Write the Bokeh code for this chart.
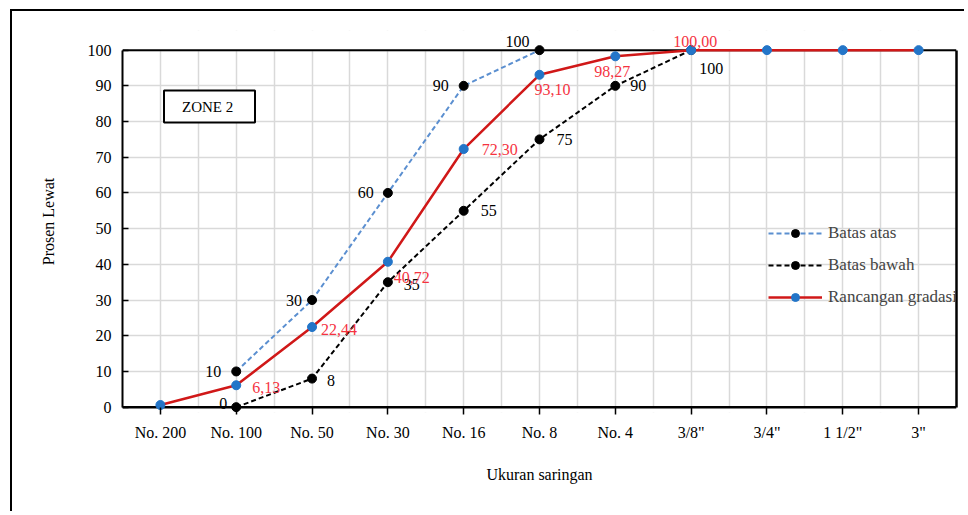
from bokeh.plotting import figure
from bokeh.models import (Range1d, FixedTicker, LinearAxis, Span, Label, LabelSet,
                          Legend, LegendItem, ColumnDataSource, BoxAnnotation)
from bokeh.embed import file_html
from bokeh.resources import INLINE

# ---------------- data ----------------
sieves = ["No. 200", "No. 100", "No. 50", "No. 30", "No. 16", "No. 8", "No. 4",
          '3/8"', '3/4"', '1 1/2"', '3"']
y_ticks = [0, 10, 20, 30, 40, 50, 60, 70, 80, 90, 100]

upper_sieves = ["No. 100", "No. 50", "No. 30", "No. 16", "No. 8"]
upper_vals = [10, 30, 60, 90, 100]
upper_text = ["10", "30", "60", "90", "100"]

lower_sieves = ["No. 100", "No. 50", "No. 30", "No. 16", "No. 8", "No. 4", '3/8"']
lower_vals = [0, 8, 35, 55, 75, 90, 100]
lower_text = ["0", "8", "35", "55", "75", "90", "100"]

design_sieves = sieves
design_vals = [0.6, 6.13, 22.44, 40.72, 72.30, 93.10, 98.27, 100, 100, 100, 100]
design_text = ["", "6,13", "22,44", "40,72", "72,30", "93,10", "98,27", "100,00", "", "", ""]

# label placement offsets (pixels)
upper_dx = [-23, -18, -22, -23, -22]
upper_dy = [0, 0, 0, 0, 9]
lower_dx = [-13, 19, 24, 25, 25, 23, 20]
lower_dy = [4, -2, -2, 0, 0, 0, -18]
design_dx = [0, 30, 27, 24, 36, 13, -3, 4, 0, 0, 0]
design_dy = [0, -2, -2, -16, 0, -15, -15, 9, 0, 0, 0]

FONT = "Liberation Serif"
RED = "#D01818"
RED_TXT = "#F5333F"
BLUE_PT = "#2375C8"
LIGHT_BLUE = "#5B8FD0"

n = len(sieves)
idx = {s: i for i, s in enumerate(sieves)}

src_up = ColumnDataSource(dict(x=[idx[s] for s in upper_sieves], y=upper_vals,
                               t=upper_text, dx=upper_dx, dy=upper_dy))
src_lo = ColumnDataSource(dict(x=[idx[s] for s in lower_sieves], y=lower_vals,
                               t=lower_text, dx=lower_dx, dy=lower_dy))
src_de = ColumnDataSource(dict(x=[idx[s] for s in design_sieves], y=design_vals,
                               t=design_text, dx=design_dx, dy=design_dy))

p = figure(width=954, height=502,
           x_range=Range1d(-0.5, n - 0.5), y_range=Range1d(-1.5, 105.5),
           output_backend="svg", toolbar_location=None,
           min_border_left=110, min_border_right=10, min_border_top=19, min_border_bottom=101)
p.styles = {"border-top": "2px solid #000", "border-left": "2px solid #000",
            "margin-left": "10px", "margin-top": "9px"}
p.outline_line_color = None
p.background_fill_color = "white"

# grids
p.xgrid.ticker = FixedTicker(ticks=[k / 2 for k in range(-1, 2 * n)])
p.ygrid.ticker = FixedTicker(ticks=y_ticks)
for g in (p.xgrid, p.ygrid):
    g.grid_line_color = "#D9D9D9"
    g.grid_line_width = 1.5

# cover grid outside 0..100
p.add_layout(BoxAnnotation(bottom=100, fill_color="white", fill_alpha=1, line_color=None, level="underlay"))
p.add_layout(BoxAnnotation(top=0, fill_color="white", fill_alpha=1, line_color=None, level="underlay"))
p.add_layout(Span(location=0, dimension="width", line_color="black", line_width=2.5, level="underlay"))
p.add_layout(Span(location=100, dimension="width", line_color="black", line_width=2, level="underlay"))

# x axis
xa = p.xaxis[0]
xa.ticker = FixedTicker(ticks=list(range(n)))
xa.major_label_overrides = {i: s for i, s in enumerate(sieves)}
xa.axis_line_color = None
xa.major_tick_in = 5
xa.major_tick_out = 2
xa.major_tick_line_width = 1.5
xa.minor_tick_line_color = None
xa.major_label_standoff = 9
xa.axis_label = "Ukuran saringan"
xa.axis_label_standoff = 22

# y axis
ya = p.yaxis[0]
ya.ticker = FixedTicker(ticks=y_ticks)
ya.bounds = (0, 100)
ya.axis_line_width = 2
ya.major_tick_in = 6
ya.major_tick_out = 0
ya.major_tick_line_width = 1.5
ya.minor_tick_line_color = None
ya.major_label_standoff = 11
ya.axis_label = "Prosen Lewat"
ya.axis_label_standoff = 28

for ax in (xa, ya):
    ax.major_label_text_font = FONT
    ax.major_label_text_font_size = "16px"
    ax.major_label_text_color = "black"
    ax.axis_label_text_font = FONT
    ax.axis_label_text_font_size = "16px"
    ax.axis_label_text_font_style = "normal"
    ax.axis_label_text_color = "black"

# right border
ra = LinearAxis(bounds=(0, 100), ticker=FixedTicker(ticks=[]), axis_line_width=2.5,
                major_label_text_font_size="0px", major_tick_line_color=None,
                minor_tick_line_color=None)
p.add_layout(ra, "right")

# series
r_up_l = p.line("x", "y", source=src_up, line_color=LIGHT_BLUE, line_width=2, line_dash="5 3")
r_up_p = p.scatter("x", "y", source=src_up, size=9, fill_color="black", line_color="black")
r_lo_l = p.line("x", "y", source=src_lo, line_color="black", line_width=2, line_dash="5 3")
r_lo_p = p.scatter("x", "y", source=src_lo, size=9, fill_color="black", line_color="black")
r_de_l = p.line("x", "y", source=src_de, line_color=RED, line_width=2.5)
r_de_p = p.scatter("x", "y", source=src_de, size=9, fill_color=BLUE_PT, line_color=BLUE_PT)

# data labels
for src, col in ((src_up, "black"), (src_lo, "black"), (src_de, RED_TXT)):
    p.add_layout(LabelSet(x="x", y="y", text="t", source=src, x_offset="dx", y_offset="dy",
                          text_align="center", text_baseline="middle",
                          text_font=FONT, text_font_size="16px", text_color=col))

# zone box
p.add_layout(Label(x=87, y=306, x_units="screen", y_units="screen", text="ZONE  2",
                   text_align="center", text_baseline="middle",
                   text_font=FONT, text_font_size="15px", text_color="black",
                   border_line_color="black", border_line_width=2,
                   background_fill_color="white", padding=dict(x=18, y=8)))

legend = Legend(items=[LegendItem(label="Batas atas", renderers=[r_up_l, r_up_p]),
                       LegendItem(label="Batas bawah", renderers=[r_lo_l, r_lo_p]),
                       LegendItem(label="Rancangan gradasi", renderers=[r_de_l, r_de_p])],
                location=(646, 105), orientation="vertical",
                glyph_width=54, glyph_height=20, label_height=20, spacing=12,
                label_standoff=6, padding=0, margin=0,
                border_line_color=None, background_fill_alpha=0,
                label_text_font=FONT, label_text_font_size="17px")
p.add_layout(legend)

open("out.html", "w").write(file_html(p, INLINE))
